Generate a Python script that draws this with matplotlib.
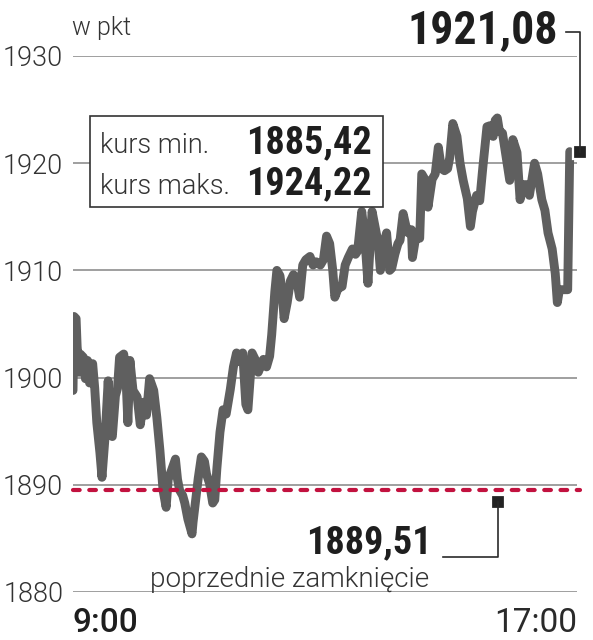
import matplotlib
matplotlib.use('Agg')
import matplotlib.pyplot as plt
from matplotlib.patches import Rectangle
from matplotlib.lines import Line2D
from matplotlib import font_manager as fm
import matplotlib.transforms as mtransforms

# ---------------- data ----------------
minutes = [0, 1, 3, 4, 6, 7, 10, 12, 14, 16, 19, 21, 23, 26, 28, 31, 34, 36, 38, 41,
           43, 45, 49, 51, 53, 55, 58, 62, 65, 68, 71, 74, 78, 81, 84, 87, 90, 92, 95, 99,
           101, 103, 106, 108, 111, 115, 116, 119, 121, 124, 127, 129, 132, 135, 137, 139, 142, 145, 148, 152,
           155, 158, 161, 164, 167, 169, 173, 177, 179, 184, 187, 190, 192, 195, 197, 200, 202, 204, 207, 210,
           213, 216, 219, 222, 225, 229, 232, 235, 239, 242, 245, 248, 251, 253, 256, 260, 263, 266, 270, 273,
           275, 279, 282, 285, 289, 292, 295, 297, 299, 303, 306, 308, 311, 314, 316, 319, 322, 324, 327, 328,
           331, 335, 337, 340, 343, 347, 350, 353, 356, 359, 362, 364, 367, 371, 374, 377, 381, 384, 386, 390,
           393, 396, 400, 403, 406, 408, 410, 412, 415, 419, 422, 425, 429, 432, 435, 439, 441, 446, 449, 453,
           456, 459, 463, 466, 468, 470, 478, 480]
values = [1898.8, 1905.7, 1905.5, 1902.9, 1900.5, 1902.2, 1901.9, 1899.9, 1901.6, 1899.5, 1901.3, 1899.0, 1895.8, 1893.0, 1890.7, 1894.5, 1899.7, 1895.0, 1894.5, 1898.3,
          1899.0, 1901.9, 1902.2, 1900.5, 1895.8, 1901.6, 1898.8, 1898.2, 1895.6, 1897.7, 1896.5, 1899.9, 1898.8, 1896.3, 1893.2, 1889.5, 1887.9, 1890.5, 1891.3, 1892.4,
          1890.5, 1889.5, 1889.0, 1888.3, 1886.8, 1885.42, 1886.5, 1889.0, 1890.6, 1892.6, 1892.2, 1891.0, 1890.1, 1888.3, 1888.6, 1891.5, 1894.9, 1897.0, 1896.6, 1898.9,
          1901.0, 1902.3, 1901.5, 1902.3, 1897.5, 1897.0, 1902.3, 1901.5, 1900.5, 1901.7, 1901.0, 1902.0, 1904.0, 1908.0, 1910.0, 1909.5, 1908.0, 1905.5, 1907.0, 1909.0,
          1909.6, 1909.2, 1907.5, 1910.5, 1911.0, 1911.3, 1910.5, 1910.8, 1910.5, 1911.0, 1913.2, 1912.5, 1910.0, 1907.5, 1908.3, 1908.5, 1910.5, 1911.2, 1912.0, 1911.5,
          1911.8, 1915.5, 1913.0, 1908.8, 1915.5, 1914.0, 1912.5, 1910.0, 1912.0, 1913.5, 1910.0, 1910.2, 1911.5, 1912.5, 1912.8, 1915.3, 1914.0, 1913.5, 1913.8, 1911.2,
          1913.0, 1913.0, 1919.0, 1918.5, 1915.9, 1918.5, 1919.0, 1921.5, 1919.5, 1919.3, 1919.5, 1920.5, 1923.7, 1922.5, 1920.0, 1918.4, 1916.7, 1914.1, 1915.5, 1917.0,
          1916.5, 1919.6, 1923.4, 1923.5, 1922.5, 1924.0, 1924.22, 1923.0, 1922.8, 1920.3, 1918.4, 1922.2, 1921.0, 1916.6, 1918.0, 1918.0, 1917.0, 1920.0, 1919.0, 1916.6,
          1915.6, 1913.5, 1912.0, 1909.7, 1907.0, 1908.2, 1908.2, 1921.08]

y_ticks = [1880, 1890, 1900, 1910, 1920, 1930]
prev_close = 1889.51
last_value = 1921.08
day_min = 1885.42
day_max = 1924.22
x_labels = ['9:00', '17:00']
unit_label = 'w pkt'
close_label = 'poprzednie zamknięcie'
min_label = 'kurs min.'
max_label = 'kurs maks.'


def fmt(v):
    return f'{v:.2f}'.replace('.', ',')


# ---------------- fonts ----------------
names = {f.name for f in fm.fontManager.ttflist}


def pick(*cands):
    for c in cands:
        if c in names:
            return c
    return 'DejaVu Sans'


light_font = pick('Roboto', 'Lato', 'Open Sans', 'Liberation Sans')
bold_font = pick('Roboto Condensed', 'Roboto', 'Liberation Sans Narrow', 'Liberation Sans')
LW = 300  # light weight

# ---------------- layout ----------------
W, H = 593, 640
fig = plt.figure(figsize=(W / 100, H / 100), dpi=100)


def fx(x):
    return x / W


def fy(y):
    return 1 - y / H


ax = fig.add_axes([fx(73), fy(592), (577 - 73) / W, (592 - 56) / H])
ax.set_xlim(0, 487)
ax.set_ylim(1880, 1930)
for s in ax.spines.values():
    s.set_visible(False)
ax.set_xticks([])
ax.set_yticks(y_ticks)
ax.set_yticklabels([str(t) for t in y_ticks], fontfamily=light_font,
                   fontweight=LW, fontsize=19.5, color='#333333')
ax.tick_params(axis='y', length=0, pad=7.0)
for lab in ax.get_yticklabels():
    lab.set_verticalalignment('center_baseline')

grid_c = '#858585'
for t in y_ticks:
    ax.axhline(t, color=grid_c, lw=1.1, zorder=1)

# price line
ax.plot(minutes, values, color='#5f5f5f', lw=6.4, solid_joinstyle='round',
        solid_capstyle='round', zorder=3)

# previous close dashed line
close_line = ax.axhline(prev_close, xmin=0, xmax=1.006, color='#c2123f', lw=3.0,
                        zorder=4, clip_on=False, dash_capstyle='round')
close_line.set_dashes((1.6, 2.3))

# last value marker (right of line end)
last_x = 490
ax.plot([last_x], [last_value], marker='s', ms=9.5, color='#232323', mec='white',
        mew=1.6, clip_on=False, zorder=6)
mxd, myd = ax.transData.transform((last_x, last_value))
m_top_y = H - myd
fig.add_artist(Line2D([fx(566), fx(mxd), fx(mxd)], [fy(32), fy(32), fy(m_top_y)],
                      transform=fig.transFigure, color='#2a2a2a', lw=1.2, zorder=5))
fig.text(fx(558), fy(43), fmt(last_value), ha='right', va='baseline',
         fontfamily=bold_font, fontweight='bold', fontsize=33, color='#1e1e1e')

# previous close marker (slightly under the dashed line)
close_x = 411
off = mtransforms.ScaledTranslation(0, -12 / 100, fig.dpi_scale_trans)
ax.plot([close_x], [prev_close], marker='s', ms=9.5, color='#232323', mec='white',
        mew=1.6, clip_on=False, zorder=6, transform=ax.transData + off)
cxd, cyd = (ax.transData + off).transform((close_x, prev_close))
c_y = H - cyd
fig.add_artist(Line2D([fx(cxd), fx(cxd), fx(443)], [fy(c_y), fy(557), fy(557)],
                      transform=fig.transFigure, color='#2a2a2a', lw=1.2, zorder=5))
fig.text(fx(432), fy(553), fmt(prev_close), ha='right', va='baseline',
         fontfamily=bold_font, fontweight='bold', fontsize=27.5, color='#1e1e1e')
fig.text(fx(150), fy(587), close_label, ha='left', va='baseline',
         fontfamily=light_font, fontweight=LW, fontsize=20, color='#333333')

# min / max box
box = Rectangle((fx(90), fy(207)), fx(383) - fx(90), fy(116) - fy(207),
                transform=fig.transFigure, facecolor='white', edgecolor='#333333',
                lw=1.2, zorder=7)
fig.add_artist(box)
for lab, val, base in [(min_label, day_min, 153), (max_label, day_max, 194)]:
    fig.text(fx(100), fy(base), lab, ha='left', va='baseline', fontfamily=light_font,
             fontweight=LW, fontsize=19.5, color='#333333', zorder=8)
    fig.text(fx(372), fy(base), fmt(val), ha='right', va='baseline',
             fontfamily=bold_font, fontweight='bold', fontsize=27.5, color='#1e1e1e',
             zorder=8)

# unit and time labels
fig.text(fx(72), fy(35), unit_label, ha='left', va='baseline', fontfamily=light_font,
         fontweight=LW, fontsize=18, color='#333333')
fig.text(fx(73), fy(632), x_labels[0], ha='left', va='baseline', fontfamily=light_font,
         fontweight='medium', fontsize=24, color='#1e1e1e')
fig.text(fx(577), fy(632), x_labels[1], ha='right', va='baseline', fontfamily=light_font,
         fontweight='normal', fontsize=24, color='#2a2a2a')

fig.savefig('out.png', dpi=100, facecolor='white')
